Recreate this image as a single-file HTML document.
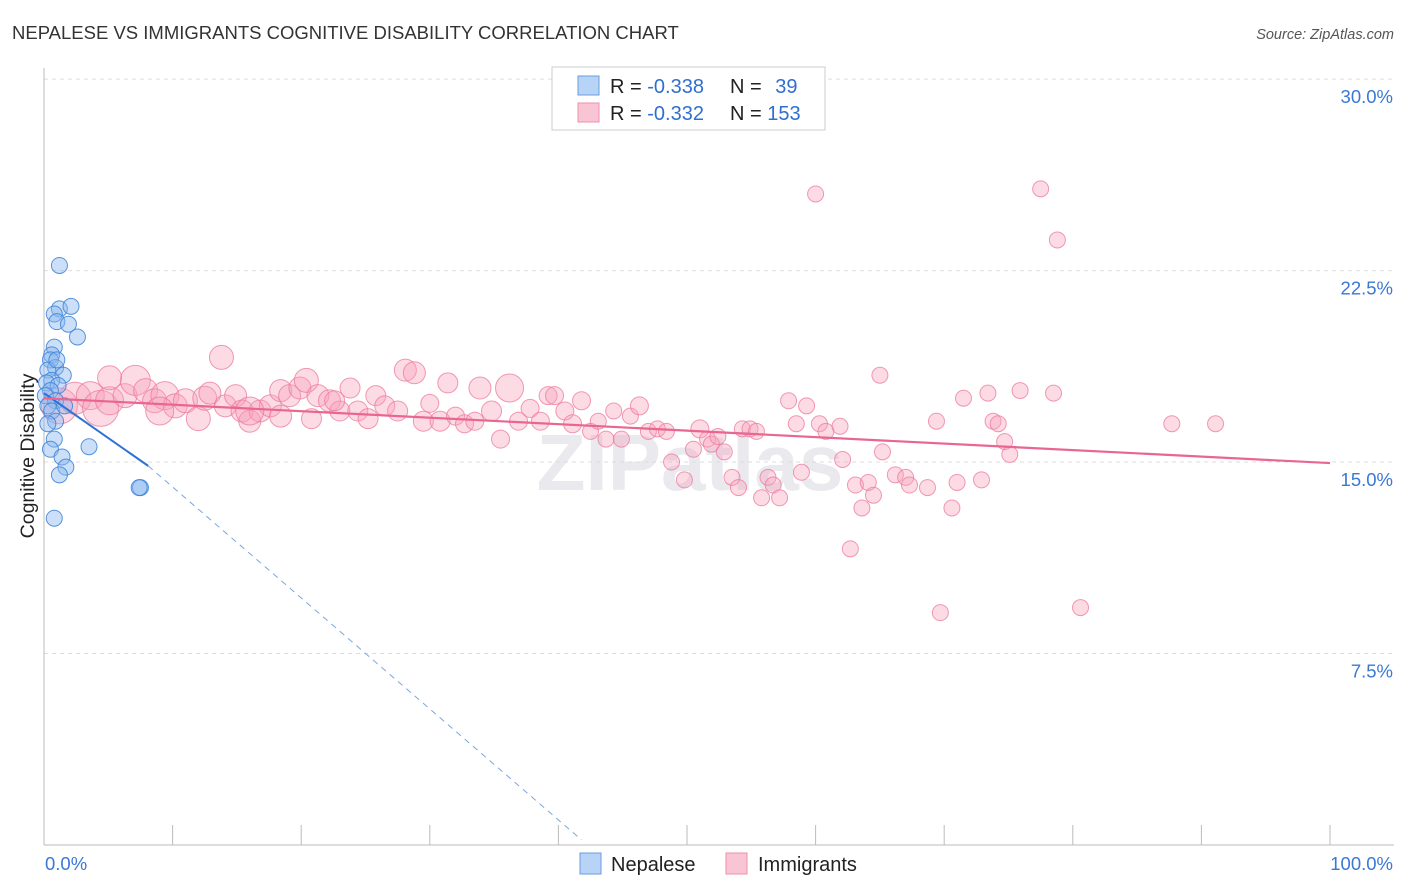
<!DOCTYPE html>
<html><head><meta charset="utf-8"><style>
body{margin:0;background:#fff;font-family:"Liberation Sans",sans-serif}
svg{display:block}
</style></head><body>
<svg width="1406" height="892" viewBox="0 0 1406 892">
<text x="12" y="39" font-size="18.5" fill="#333">NEPALESE VS IMMIGRANTS COGNITIVE DISABILITY CORRELATION CHART</text>
<text x="1394" y="39" font-size="14.5" fill="#555" font-style="italic" text-anchor="end">Source: ZipAtlas.com</text>
<text x="690" y="490" font-size="80" fill="#e9e9ee" text-anchor="middle" font-weight="bold">ZIPatlas</text>
<g id="grid"></g>
<g id="axes"></g>
<g id="pink"></g>
<g id="blue"></g>
<g id="lines"></g>
<text transform="translate(34,456) rotate(-90)" font-size="19.5" fill="#222" text-anchor="middle">Cognitive Disability</text>
<g>
<rect x="552" y="67" width="273" height="63" fill="#fff" stroke="#ccc"/>
<rect x="578" y="76" width="21" height="19" fill="#b7d3f5" stroke="#6a9de0"/>
<rect x="578" y="103" width="21" height="19" fill="#f9c5d4" stroke="#ee8fad"/>
<text x="610" y="93" font-size="20" fill="#222">R = <tspan fill="#2f6fd0">-0.338</tspan></text>
<text x="730" y="93" font-size="20" fill="#222">N = <tspan fill="#2f6fd0" dx="8">39</tspan></text>
<text x="610" y="120" font-size="20" fill="#222">R = <tspan fill="#2f6fd0">-0.332</tspan></text>
<text x="730" y="120" font-size="20" fill="#222">N = <tspan fill="#2f6fd0">153</tspan></text>
</g>
<g>
<rect x="580" y="853" width="21" height="21" fill="#b7d3f5" stroke="#6a9de0"/>
<text x="611" y="871" font-size="20" fill="#222">Nepalese</text>
<rect x="726" y="853" width="21" height="21" fill="#f9c5d4" stroke="#ee8fad"/>
<text x="758" y="871" font-size="20" fill="#222">Immigrants</text>
</g>
</svg>
<script>
const yTicks=[7.5,15,22.5,30];
const yTickLabels=["7.5%","15.0%","22.5%","30.0%"];
const xTicks=[0,10,20,30,40,50,60,70,80,90,100];
const blueX=[1.2,1.2,2.1,0.8,1.0,1.9,2.6,0.8,0.6,0.5,0.9,0.3,1.5,0.6,0.2,1.1,0.5,0.1,0.9,0.3,0.6,0.9,0.3,0.8,3.5,0.5,1.4,1.7,1.2,7.5,0.8,1.0,1.6,7.4];
const blueY=[22.7,21.0,21.1,20.8,20.5,20.4,19.9,19.5,19.2,19.0,18.7,18.6,18.4,18.2,18.1,18.0,17.8,17.6,17.4,17.2,17.0,16.6,16.5,15.9,15.6,15.5,15.2,14.8,14.5,14.0,12.8,19.0,17.2,14.0];
const pinkX=[1.2,2.4,3.6,4.4,5.1,6.3,7.1,7.9,8.6,9.4,10.2,11.0,12.0,12.5,12.9,13.8,14.1,14.9,15.4,16.0,16.8,17.6,18.4,19.1,19.9,20.4,20.8,21.3,22.2,23.0,23.8,24.4,25.2,25.8,26.5,27.5,28.1,28.8,29.5,30.0,30.8,31.4,32.0,32.7,33.5,33.9,34.8,35.5,36.2,36.9,37.8,38.6,39.2,39.7,40.5,41.1,41.8,42.5,43.1,43.7,44.3,44.9,45.6,46.3,47.0,47.7,48.4,48.8,49.8,50.5,51.0,51.6,51.9,52.4,52.9,53.5,54.0,54.3,54.9,55.4,55.8,56.3,56.7,57.2,57.9,58.5,58.9,59.3,60.0,60.3,60.8,61.9,62.1,62.7,63.1,63.6,64.1,64.5,65.0,65.2,66.2,67.0,67.3,68.7,69.4,69.7,70.6,71.0,71.5,72.9,73.4,73.8,74.2,74.7,75.1,75.9,77.5,78.5,78.8,80.6,87.7,91.1,16.0,9.0,5.1,18.4,22.6];
const pinkY=[17.2,17.5,17.6,17.1,17.4,17.6,18.2,17.8,17.4,17.6,17.2,17.4,16.7,17.5,17.7,19.1,17.2,17.6,17.0,16.6,17.0,17.2,17.8,17.6,17.9,18.2,16.7,17.6,17.4,17.0,17.9,17.0,16.7,17.6,17.2,17.0,18.6,18.5,16.6,17.3,16.6,18.1,16.8,16.5,16.6,17.9,17.0,15.9,17.9,16.6,17.1,16.6,17.6,17.6,17.0,16.5,17.4,16.2,16.6,15.9,17.0,15.9,16.8,17.2,16.2,16.3,16.2,15.0,14.3,15.5,16.3,15.9,15.7,16.0,15.4,14.4,14.0,16.3,16.3,16.2,13.6,14.4,14.1,13.6,17.4,16.5,14.6,17.2,25.5,16.5,16.2,16.4,15.1,11.6,14.1,13.2,14.2,13.7,18.4,15.4,14.5,14.4,14.1,14.0,16.6,9.1,13.2,14.2,17.5,14.3,17.7,16.6,16.5,15.8,15.3,17.8,25.7,17.7,23.7,9.3,16.5,16.5,17.0,17.0,18.3,16.8,17.4];
const pinkSize=[18,16,14,18,14,12,15,12,12,14,12,12,12,12,11,12,11,11,11,11,11,11,11,11,11,12,10,11,11,10,10,10,10,10,10,10,11,11,10,9,10,10,9,9,9,11,10,9,14,9,9,9,9,9,9,9,9,8,8,8,8,8,8,9,8,8,8,8,8,8,9,8,8,8,8,8,8,8,8,8,8,8,8,8,8,8,8,8,8,8,8,8,8,8,8,8,8,8,8,8,8,8,8,8,8,8,8,8,8,8,8,8,8,8,8,8,8,8,8,8,8,8,14,14,12,11,10];
const blueLine=[[0,17.7],[8.1,14.85]];
const blueDash=[[8.1,14.85],[41.8,0.2]];
const pinkLine=[[0,17.5],[100,14.96]];
const NS='http://www.w3.org/2000/svg';
const X=v=>44+v*12.86, Y=v=>845-v*25.53;
function mk(tag,attrs,parent){const e=document.createElementNS(NS,tag);for(const k in attrs)e.setAttribute(k,attrs[k]);document.getElementById(parent).appendChild(e);return e;}
yTicks.forEach((t,i)=>{
 const g=mk('line',{x1:44,x2:1394,y1:Y(t),y2:Y(t),stroke:'#ddd','stroke-dasharray':'4,4'},'grid');
 
 
 const l=mk('text',{x:1393,y:Y(t)+24,'font-size':18.5,fill:'#3a78d4','text-anchor':'end'},'axes');
 l.textContent=yTickLabels[i];
 
 
});
const ax=mk('line',{x1:44,x2:1394,y1:845,y2:845,stroke:'#bbb'},'axes');


const ay=mk('line',{x1:44,x2:44,y1:68,y2:845,stroke:'#bbb'},'axes');


xTicks.forEach(t=>{
 const tk=mk('line',{x1:X(t),x2:X(t),y1:825,y2:845,stroke:'#bbb'},'axes');
 
 
});
const x0=mk('text',{x:45,y:870,'font-size':18.5,fill:'#3a78d4'},'axes');x0.textContent='0.0%';


const x1=mk('text',{x:1393,y:870,'font-size':18.5,fill:'#3a78d4','text-anchor':'end'},'axes');x1.textContent='100.0%';


pinkX.forEach((v,i)=>{
 const c=mk('circle',{cx:X(v),cy:Y(pinkY[i]),r:pinkSize[i],fill:'rgba(246,160,186,0.38)',stroke:'rgba(236,120,158,0.75)','stroke-width':1},'pink');
 
 
});
blueX.forEach((v,i)=>{
 const c=mk('circle',{cx:X(v),cy:Y(blueY[i]),r:8,fill:'rgba(140,185,240,0.45)',stroke:'rgba(60,130,215,0.85)','stroke-width':1},'blue');
 
 
});
const bl=mk('line',{x1:X(blueLine[0][0]),y1:Y(blueLine[0][1]),x2:X(blueLine[1][0]),y2:Y(blueLine[1][1]),stroke:'#2f72d6','stroke-width':2},'lines');


const bd=mk('line',{x1:X(blueDash[0][0]),y1:Y(blueDash[0][1]),x2:X(blueDash[1][0]),y2:Y(blueDash[1][1]),stroke:'#7aa6e0','stroke-width':1,'stroke-dasharray':'6,5'},'lines');


const pl=mk('line',{x1:X(pinkLine[0][0]),y1:Y(pinkLine[0][1]),x2:X(pinkLine[1][0]),y2:Y(pinkLine[1][1]),stroke:'#e8668f','stroke-width':2.2},'lines');


</script>
</body></html>
